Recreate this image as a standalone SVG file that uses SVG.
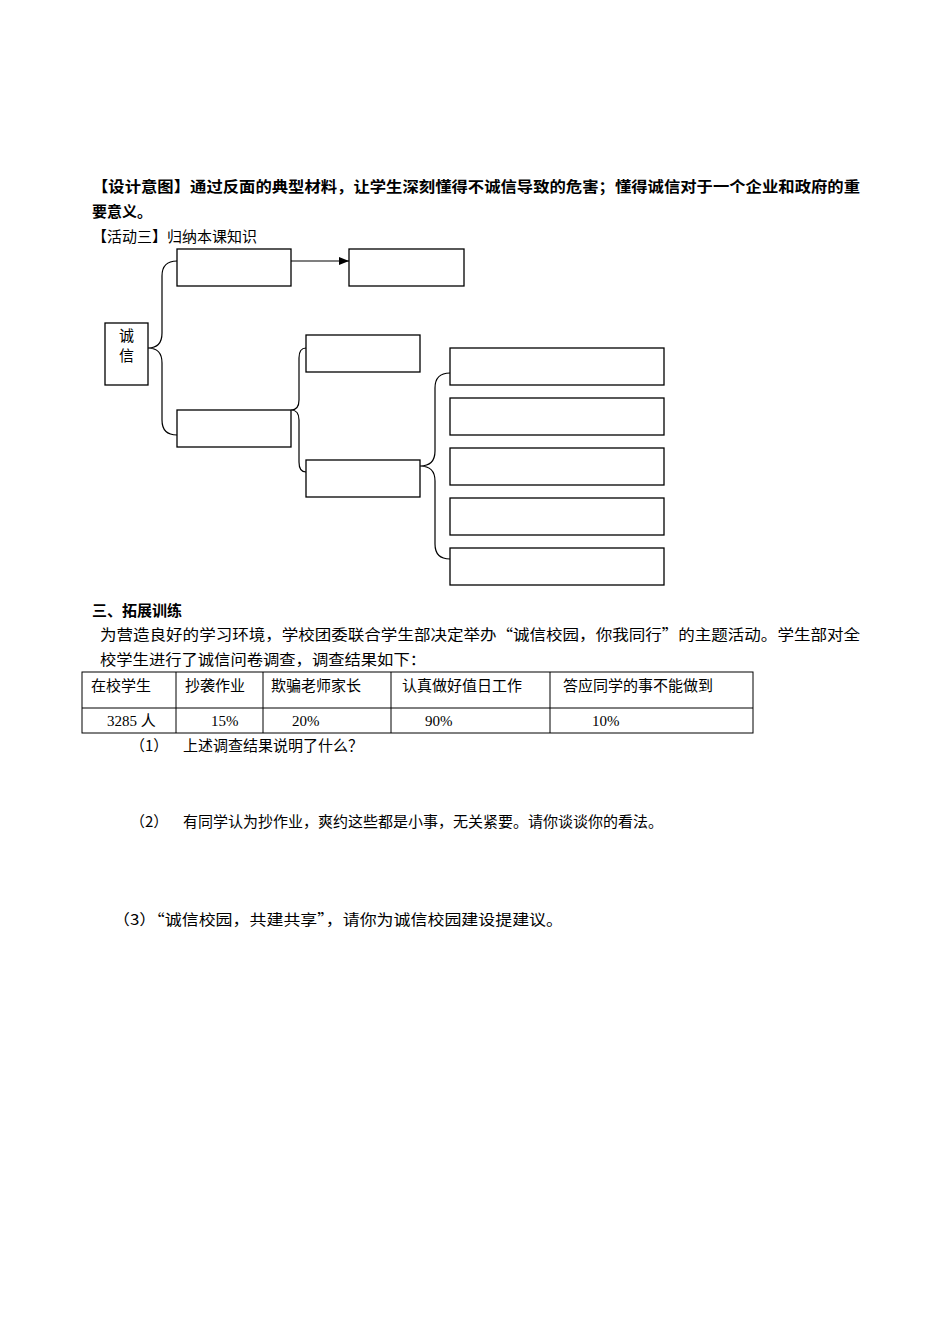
<svg xmlns="http://www.w3.org/2000/svg" width="950" height="1344" viewBox="0 0 950 1344">
<defs>
<style>
text{font-family:"Liberation Serif","Noto Sans CJK SC",serif;font-size:15px;fill:#000}
.z{font-family:"Noto Sans CJK SC",sans-serif;font-size:15px}
.b{font-weight:bold;font-family:"Noto Sans CJK SC",sans-serif;font-size:15px}
.box{fill:#fff;stroke:#000;stroke-width:1.3}
.c{fill:none;stroke:#000;stroke-width:1.2}
</style>
<marker id="ah" markerWidth="10" markerHeight="8" refX="10" refY="4" orient="auto" markerUnits="userSpaceOnUse"><path d="M0,0L10,4L0,8Z"/></marker>
</defs>
<rect width="950" height="1344" fill="#fff"/>
<text class="b" x="92" y="192" textLength="768" lengthAdjust="spacingAndGlyphs">【设计意图】通过反面的典型材料，让学生深刻懂得不诚信导致的危害；懂得诚信对于一个企业和政府的重</text>
<text class="b" x="92" y="217">要意义。</text>
<text class="z" x="92" y="242">【活动三】归纳本课知识</text>
<g id="connectors">
<path class="c" d="M177,261 Q162,261 162,276 V333 Q162,348 148,348 Q162,348 162,363 V420 Q162,435 177,435"/>
<path class="c" d="M306,348 Q299,348 299,358 V400 Q299,410 291,410 Q299,410 299,420 V462 Q299,472 306,472"/>
<path class="c" d="M450,373 Q435,373 435,388 V451 Q435,466 420,466 Q435,466 435,481 V544 Q435,559 450,559"/>
<line class="c" x1="291" y1="261" x2="349" y2="261" marker-end="url(#ah)"/>
</g>
<g id="n0"><rect class="box" x="105" y="323" width="43" height="62"/><text class="z" x="119" y="341">诚</text><text class="z" x="119" y="361">信</text></g>
<g id="n1"><rect class="box" x="177" y="249" width="114" height="37"/></g>
<g id="n2"><rect class="box" x="349" y="249" width="115" height="37"/></g>
<g id="n3"><rect class="box" x="177" y="410" width="114" height="37"/></g>
<g id="n4"><rect class="box" x="306" y="335" width="114" height="37"/></g>
<g id="n5"><rect class="box" x="306" y="460" width="114" height="37"/></g>
<g id="n6"><rect class="box" x="450" y="348" width="214" height="37"/></g>
<g id="n7"><rect class="box" x="450" y="398" width="214" height="37"/></g>
<g id="n8"><rect class="box" x="450" y="448" width="214" height="37"/></g>
<g id="n9"><rect class="box" x="450" y="498" width="214" height="37"/></g>
<g id="n10"><rect class="box" x="450" y="548" width="214" height="37"/></g>
<text class="b" x="92" y="616">三、拓展训练</text>
<text class="z" x="100" y="640" textLength="760" lengthAdjust="spacingAndGlyphs">为营造良好的学习环境，学校团委联合学生部决定举办“诚信校园，你我同行”的主题活动。学生部对全</text>
<text class="z" x="100" y="665" textLength="326" lengthAdjust="spacingAndGlyphs">校学生进行了诚信问卷调查，调查结果如下：</text>
<g id="table" fill="none" stroke="#000" stroke-width="1">
<rect x="82" y="672" width="671" height="61"/>
<line x1="82" y1="708" x2="753" y2="708"/>
<line x1="176" y1="672" x2="176" y2="733"/>
<line x1="263" y1="672" x2="263" y2="733"/>
<line x1="391" y1="672" x2="391" y2="733"/>
<line x1="550" y1="672" x2="550" y2="733"/>
</g>
<text class="z" x="91" y="691">在校学生</text>
<text class="z" x="185" y="691">抄袭作业</text>
<text class="z" x="271" y="691">欺骗老师家长</text>
<text class="z" x="402" y="691">认真做好值日工作</text>
<text class="z" x="563" y="691">答应同学的事不能做到</text>
<text x="107" y="726">3285 人</text>
<text x="211" y="726">15%</text>
<text x="292" y="726">20%</text>
<text x="425" y="726">90%</text>
<text x="592" y="726">10%</text>
<text class="z" x="130" y="751">（1）</text><text class="z" x="183" y="751">上述调查结果说明了什么？</text>
<text class="z" x="130" y="827">（2）</text><text class="z" x="183" y="827">有同学认为抄作业，爽约这些都是小事，无关紧要。请你谈谈你的看法。</text>
<text class="z" x="113" y="925" textLength="450" lengthAdjust="spacingAndGlyphs">（3）“诚信校园，共建共享”，请你为诚信校园建设提建议。</text>
</svg>
